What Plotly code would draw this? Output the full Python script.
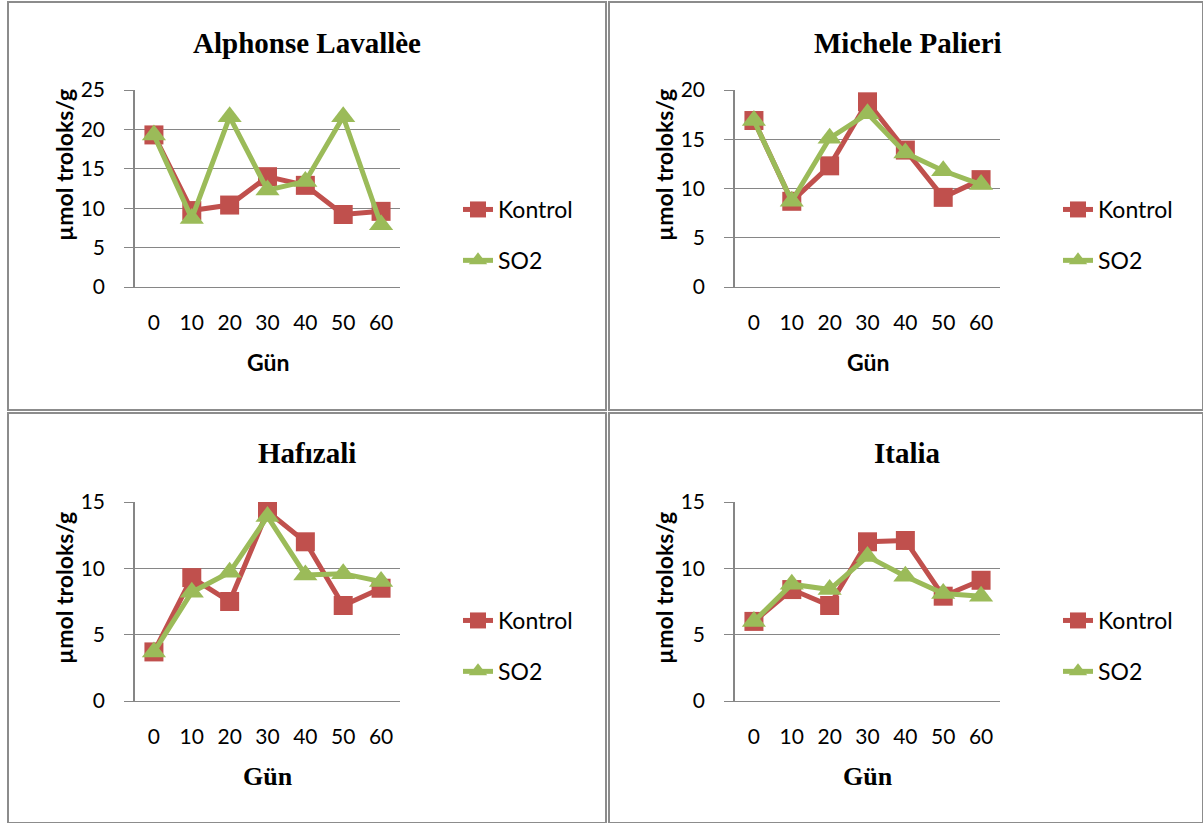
import plotly.graph_objects as go

W, H = 1203, 823

days = ["0", "10", "20", "30", "40", "50", "60"]
titles = ["Alphonse Lavallèe", "Michele Palieri", "Hafızali", "Italia"]
series_names = ["Kontrol", "SO2"]

kontrol_alphonse = [19.3, 9.7, 10.4, 14.0, 12.9, 9.2, 9.6]
so2_alphonse = [19.3, 8.7, 21.6, 12.3, 13.4, 21.6, 7.9]
kontrol_michele = [16.9, 8.7, 12.3, 18.8, 13.9, 9.1, 10.9]
so2_michele = [16.9, 8.7, 15.1, 17.6, 13.6, 11.8, 10.4]
kontrol_hafizali = [3.7, 9.3, 7.5, 14.3, 12.0, 7.2, 8.5]
so2_hafizali = [3.7, 8.2, 9.7, 13.9, 9.5, 9.6, 9.0]
kontrol_italia = [6.0, 8.4, 7.2, 12.0, 12.1, 7.9, 9.1]
so2_italia = [6.0, 8.8, 8.4, 10.9, 9.4, 8.1, 7.9]

y_max = [25, 20, 15, 15]

panel_data = [
    (kontrol_alphonse, so2_alphonse),
    (kontrol_michele, so2_michele),
    (kontrol_hafizali, so2_hafizali),
    (kontrol_italia, so2_italia),
]

RED = "#C0504D"
GREEN = "#9BBB59"
GRID = "#868686"
SANS = "Lato"
SERIF = "Liberation Serif"

# plot area pixel boxes (x0, x1, ytop, ybottom)
boxes = [
    (135, 400, 90, 287),
    (735, 1000, 90, 287),
    (135, 400, 502, 701),
    (735, 1000, 502, 701),
]
cells = [
    (8, 606, 2, 410),
    (609, 1203, 2, 410),
    (8, 606, 413, 823),
    (609, 1203, 413, 823),
]


def px(x):
    return x / W


def py(y):
    return 1 - y / H


fig = go.Figure()
layout = {}
annotations = []
shapes = []

for i in range(4):
    k = "" if i == 0 else str(i + 1)
    x0, x1, yt, yb = boxes[i]
    kd, sd = panel_data[i]
    leg = "legend" if i == 0 else f"legend{i + 1}"
    fig.add_trace(go.Scatter(
        x=days, y=kd, name=series_names[0], mode="lines+markers",
        line=dict(color=RED, width=5),
        marker=dict(symbol="square", size=19, color=RED),
        xaxis="x" + k, yaxis="y" + k, legend=leg, legendgroup="a",
    ))
    fig.add_trace(go.Scatter(
        x=days, y=sd, name=series_names[1], mode="lines+markers",
        line=dict(color=GREEN, width=5),
        marker=dict(symbol="triangle-up", size=21, color=GREEN),
        xaxis="x" + k, yaxis="y" + k, legend=leg, legendgroup="b",
    ))
    layout["xaxis" + k] = dict(
        domain=[px(x0), px(x1)], anchor="y" + k, type="category",
        range=[-0.5, 6.5], showgrid=False, zeroline=False,
        showline=True, linecolor=GRID, linewidth=1, automargin=False,
        ticks="", ticklabelstandoff=17,
        tickfont=dict(family=SANS, size=21, color="#000"),
    )
    layout["yaxis" + k] = dict(
        domain=[py(yb), py(yt)], anchor="x" + k,
        range=[0, y_max[i]], dtick=5, tick0=0, automargin=False,
        showgrid=True, gridcolor=GRID, gridwidth=1, zeroline=False,
        showline=True, linecolor=GRID, linewidth=1.5,
        ticks="outside", ticklen=9, tickcolor=GRID, tickwidth=1,
        ticklabelstandoff=15,
        tickfont=dict(family=SANS, size=21, color="#000"),
    )
    lx = 458 if i % 2 == 0 else 1058
    ly = 235 if i < 2 else 646
    layout[leg] = dict(
        x=px(lx), y=py(ly), xanchor="left", yanchor="middle",
        bgcolor="rgba(0,0,0,0)", tracegroupgap=18,
        font=dict(family=SANS, size=23, color="#000"),
        traceorder="grouped", itemwidth=30,
    )
    # panel title
    cx = (x0 + x1) / 2
    ty = 43 if i < 2 else 453
    tx = [307, 908, 307, 907][i]
    annotations.append(dict(
        x=px(tx), y=py(ty), xref="paper", yref="paper", showarrow=False,
        text=f"<b>{titles[i]}</b>", xanchor="center", yanchor="middle",
        font=dict(family=SERIF, size=29, color="#000"),
    ))
    # y axis title
    yx = 64 if i % 2 == 0 else 664
    yy = 165 if i < 2 else 588
    annotations.append(dict(
        x=px(yx), y=py(yy), xref="paper", yref="paper", showarrow=False,
        text="<b>µmol troloks/g</b>", textangle=-90,
        xanchor="center", yanchor="middle",
        font=dict(family=SANS, size=23, color="#000"),
    ))
    # x axis title
    gy = 362 if i < 2 else 776
    gfont = dict(family=SANS, size=23, color="#000") if i < 2 else dict(family=SERIF, size=26, color="#000")
    annotations.append(dict(
        x=px(cx), y=py(gy), xref="paper", yref="paper", showarrow=False,
        text="<b>Gün</b>", xanchor="center", yanchor="middle", font=gfont,
    ))
    c0, c1, ct, cb = cells[i]
    shapes.append(dict(
        type="rect", xref="paper", yref="paper",
        x0=px(c0), x1=px(c1), y0=py(cb), y1=py(ct),
        line=dict(color="#8c8c8c", width=2), fillcolor="rgba(0,0,0,0)",
    ))

fig.update_layout(
    width=W, height=H,
    margin=dict(l=0, r=0, t=0, b=0, pad=0, autoexpand=False),
    paper_bgcolor="white", plot_bgcolor="white",
    annotations=annotations, shapes=shapes, **layout,
)

fig.write_html("out.html")
